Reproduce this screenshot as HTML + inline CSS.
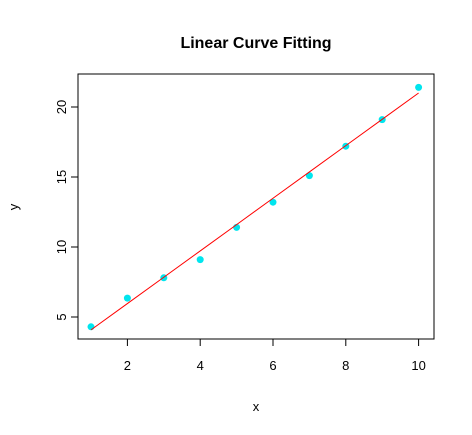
<!DOCTYPE html>
<html>
<head>
<meta charset="utf-8">
<style>
html,body{margin:0;padding:0;background:#fff;}
svg{display:block;font-family:"Liberation Sans",Arial,sans-serif;}
</style>
</head>
<body>
<svg id="chart" width="472" height="435" viewBox="0 0 472 435">
<text x="256" y="48" text-anchor="middle" font-size="16" font-weight="bold">Linear Curve Fitting</text>
<rect x="78" y="74" width="356" height="265" fill="none" stroke="#000" stroke-width="1"/>
<text x="256" y="411" text-anchor="middle" font-size="13">x</text>
<text x="18" y="207" text-anchor="middle" font-size="13" transform="rotate(-90 18 207)">y</text>
<g id="axes"></g>
<g id="marks"></g>
</svg>
<script>
const xs = [1,2,3,4,5,6,7,8,9,10];
const ys = [4.3,6.35,7.8,9.1,11.4,13.2,15.1,17.2,19.1,21.4];
const xTicks = [2,4,6,8,10];
const yTicks = [5,10,15,20];
const fitIntercept = 2.2;
const fitSlope = 1.88;

const NS = "http://www.w3.org/2000/svg";
function sx(v){ return 91 + (v-1)*36.4; }
function sy(v){ return 317 - (v-5)*14; }
function mk(tag, attrs, parent){
  const e = document.createElementNS(NS, tag);
  for (const k in attrs) e.setAttribute(k, attrs[k]);
  parent.appendChild(e);
  return e;
}
const axes = document.getElementById('axes');
const marks = document.getElementById('marks');

mk('line',{x1:sx(xTicks[0]),x2:sx(xTicks[xTicks.length-1]),y1:339,y2:339,stroke:'#000'},axes);
xTicks.forEach(t=>{
  const l = mk('line',{x1:sx(t),x2:sx(t),y1:339,y2:346,stroke:'#000'},axes);
  
  
  const tx = mk('text',{x:sx(t),y:370,'text-anchor':'middle','font-size':'13'},axes);
  tx.textContent = t;
  
  
});
mk('line',{x1:78,x2:78,y1:sy(yTicks[0]),y2:sy(yTicks[yTicks.length-1]),stroke:'#000'},axes);
yTicks.forEach(t=>{
  const l = mk('line',{x1:71,x2:78,y1:sy(t),y2:sy(t),stroke:'#000'},axes);
  
  
  const tx = mk('text',{x:66,y:sy(t),'text-anchor':'middle','font-size':'13',transform:`rotate(-90 66 ${sy(t)})`},axes);
  tx.textContent = t;
  
  
});

xs.forEach((x,i)=>{
  const c = mk('circle',{cx:sx(x),cy:sy(ys[i]),r:3.5,fill:'#00e5ee'},marks);
  
  
});
let pts = xs.map(x=>sx(x)+','+sy(fitIntercept+fitSlope*x)).join(' ');
const fl = mk('polyline',{points:pts,fill:'none',stroke:'#ff0000','stroke-width':1},marks);


</script>
</body>
</html>
